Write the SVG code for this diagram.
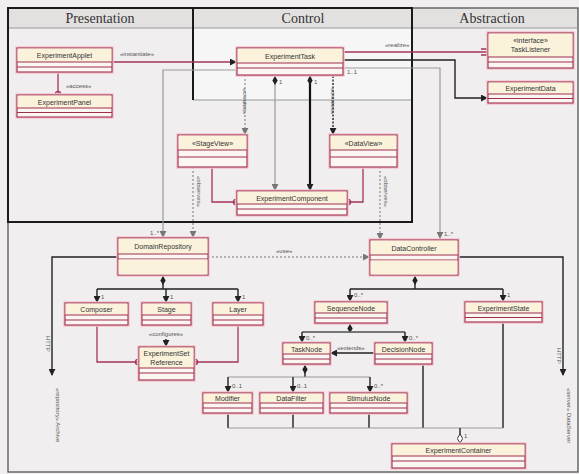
<svg xmlns="http://www.w3.org/2000/svg" width="579" height="474" viewBox="0 0 579 474">
<style>
.halo{fill:none;stroke:#f3c4d0;stroke-width:3.5}
.body{fill:#fcf6f2;stroke:#9e2f4c;stroke-width:1.1}
.nm{fill:#fbf2dc;stroke:none}
.sep{stroke:#9e2f4c;stroke-width:1}
.t{font-family:"Liberation Sans",Arial,sans-serif;font-size:7px;fill:#333;text-anchor:middle}
.s{font-family:"Liberation Sans",Arial,sans-serif;font-size:6px;fill:#555}
.hd{font-family:"Liberation Serif","Times New Roman",serif;font-size:14px;fill:#333;text-anchor:middle}
.dk{fill:none;stroke:#222;stroke-width:1.4}
.thk{fill:none;stroke:#111;stroke-width:2.2}
.gr{fill:none;stroke:#9a9a9a;stroke-width:1.2}
.pk{fill:none;stroke:#a3345a;stroke-width:1.3}
.dsh{fill:none;stroke:#777;stroke-width:1;stroke-dasharray:2,2}
</style>
<defs>
<marker id="ar" viewBox="0 0 8 8" refX="7" refY="4" markerWidth="7" markerHeight="7" orient="auto" markerUnits="userSpaceOnUse"><path d="M0,0 L8,4 L0,8 z" fill="#222"/></marker>
<marker id="arg" viewBox="0 0 8 8" refX="7" refY="4" markerWidth="7" markerHeight="7" orient="auto" markerUnits="userSpaceOnUse"><path d="M0,0 L8,4 L0,8 z" fill="#777"/></marker>
<marker id="dia" viewBox="0 0 10 6" refX="0" refY="3" markerWidth="9" markerHeight="6" orient="auto" markerUnits="userSpaceOnUse"><path d="M0,3 L5,0 L10,3 L5,6 z" fill="#222"/></marker>
<marker id="odia" viewBox="0 0 10 6" refX="10" refY="3" markerWidth="9" markerHeight="6" orient="auto" markerUnits="userSpaceOnUse"><path d="M0,3 L5,0 L10,3 L5,6 z" fill="#fff" stroke="#222" stroke-width="1"/></marker>
<marker id="oc" viewBox="0 0 8 8" refX="7" refY="4" markerWidth="7" markerHeight="7" orient="auto" markerUnits="userSpaceOnUse"><path d="M7,1 A3,3 0 1 0 7,7" fill="none" stroke="#a3345a" stroke-width="1.4"/></marker>
<marker id="otri" viewBox="0 0 8 8" refX="7" refY="4" markerWidth="8" markerHeight="8" orient="auto" markerUnits="userSpaceOnUse"><path d="M1,1 L7,1 L7,7 L1,7" fill="none" stroke="#a3345a" stroke-width="1.4"/></marker>
</defs>

<rect x="0" y="0" width="579" height="474" fill="#f0eeee"/>
<rect x="193" y="28" width="219" height="72" fill="#f7f6f6"/>
<rect x="8" y="8" width="570" height="20" fill="#e3e0e0"/>
<rect x="8" y="8" width="570" height="464" fill="none" stroke="#555" stroke-width="1.3"/>
<line x1="8" y1="28" x2="578" y2="28" stroke="#999" stroke-width="1"/>
<line x1="193" y1="100" x2="412" y2="100" stroke="#999" stroke-width="1"/>
<rect x="8" y="8" width="404" height="214" fill="none" stroke="#1a1a1a" stroke-width="2"/>
<line x1="193" y1="8" x2="193" y2="100" stroke="#1a1a1a" stroke-width="2"/>
<text class="hd" x="100" y="23">Presentation</text>
<text class="hd" x="303" y="23">Control</text>
<text class="hd" x="492" y="23">Abstraction</text>

<g id="connectors">
<path class="pk" d="M112,62 H236" marker-end="url(#ar)"/>
<text class="s" x="120" y="56">«instantiate»</text>
<path class="pk" d="M58,72 V94" marker-end="url(#oc)"/>
<text class="s" x="66" y="88">«access»</text>
<path class="pk" d="M343,52 H487" marker-end="url(#otri)"/>
<text class="s" x="385" y="47">«realize»</text>
<path class="dk" d="M343,60 H455 V98 H487" marker-end="url(#ar)"/>
<path class="gr" d="M343,68 H440 V238" marker-end="url(#arg)"/>
<text class="s" x="347" y="74">1..1</text>
<text class="s" x="444" y="236">1..*</text>
<path class="gr" d="M237,70 H163 V237" marker-end="url(#arg)"/>
<text class="s" x="150" y="235">1..*</text>
<path class="dsh" d="M245,75 V134" marker-end="url(#arg)"/>
<text class="s" transform="translate(243,88) rotate(90)">«creates»</text>
<path class="gr" d="M275,76 V190" marker-start="url(#dia)" marker-end="url(#arg)"/>
<text class="s" x="279" y="84">1</text>
<path class="thk" d="M310,76 V190" marker-start="url(#dia)" marker-end="url(#ar)"/>
<text class="s" x="314" y="84">1</text>
<path class="dk" d="M333,76 V134" stroke-dasharray="2,1.5" marker-end="url(#ar)"/>
<text class="s" transform="translate(331,88) rotate(90)">«creates»</text>
<path class="pk" d="M212,167 V202 H236" marker-end="url(#oc)"/>
<path class="pk" d="M363,167 V202 H348" marker-end="url(#oc)"/>
<path class="dsh" d="M193,167 V237" marker-end="url(#arg)"/>
<text class="s" transform="translate(197,176) rotate(90)">«observes»</text>
<path class="dsh" d="M380,167 V239" marker-end="url(#arg)"/>
<text class="s" transform="translate(384,176) rotate(90)">«observes»</text>
<text class="s" x="197" y="244">1</text>
<text class="s" x="384" y="246">1</text>

<path class="dsh" d="M208,257 H369" marker-end="url(#arg)"/>
<text class="s" x="276" y="253">«use»</text>
<path class="dk" d="M118,257 H52 V375" marker-end="url(#ar)"/>
<text class="s" transform="translate(46,336) rotate(90)">HTTP</text>
<text class="s" transform="translate(56,388) rotate(90)">«repository» Archive</text>
<path class="dk" d="M458,257 H563 V375" marker-end="url(#ar)"/>
<text class="s" transform="translate(557,348) rotate(90)">HTTP</text>
<text class="s" transform="translate(567,388) rotate(90)">«server» DataServer</text>

<path class="dk" d="M163,276 V289 M97,289 H238" marker-start="url(#dia)"/>
<path class="dk" d="M97,289 V302" marker-end="url(#ar)"/>
<path class="dk" d="M166,289 V302" marker-end="url(#ar)"/>
<path class="dk" d="M238,289 V302" marker-end="url(#ar)"/>
<text class="s" x="101" y="299">1</text>
<text class="s" x="170" y="299">1</text>
<text class="s" x="242" y="299">1</text>
<path class="dk" d="M166,339 V346" marker-end="url(#ar)"/>
<text class="s" x="166" y="336" text-anchor="middle">«configures»</text>
<path class="pk" d="M97,325 V362 H138" marker-end="url(#oc)"/>
<path class="pk" d="M238,325 V362 H195" marker-end="url(#oc)"/>

<path class="dk" d="M415,276 V289 M350,289 H503" marker-start="url(#dia)"/>
<path class="dk" d="M350,289 V301" marker-end="url(#ar)"/>
<path class="dk" d="M503,289 V301" marker-end="url(#ar)"/>
<text class="s" x="354" y="297">0..*</text>
<text class="s" x="507" y="297">1</text>
<path class="dk" d="M350,324 V332 M302,332 H405" marker-start="url(#dia)"/>
<path class="gr" d="M302,332 H405"/>
<path class="dk" d="M302,332 V342" marker-end="url(#ar)"/>
<path class="dk" d="M405,332 V342" marker-end="url(#ar)"/>
<text class="s" x="306" y="340">0..*</text>
<text class="s" x="409" y="340">0..*</text>
<path class="dk" d="M375,353 H331" marker-end="url(#ar)"/>
<text class="s" x="337" y="350">«extends»</text>
<path class="dk" d="M305,365 V377" marker-start="url(#dia)"/>
<path class="gr" d="M228,377 H370"/>
<path class="dk" d="M228,377 V392" marker-end="url(#ar)"/>
<path class="dk" d="M293,377 V392" marker-end="url(#ar)"/>
<path class="dk" d="M370,377 V392" marker-end="url(#ar)"/>
<text class="s" x="232" y="388">0..1</text>
<text class="s" x="297" y="388">0..1</text>
<text class="s" x="374" y="388">0..*</text>
<path class="dk" d="M228,413 V428 M293,413 V428 M369,413 V428 M423,364 V428 M503,322 V428"/>
<path class="gr" d="M228,428 H503"/>
<path class="dk" d="M460,428 V443" marker-end="url(#odia)"/>
<text class="s" x="464" y="438">1</text>
</g>

<g id="ExperimentApplet"><rect class="halo" x="17" y="48" width="95" height="24"/><rect class="body" x="17" y="48" width="95" height="24"/><rect class="nm" x="17.6" y="48.6" width="93.8" height="13.4"/><line class="sep" x1="17" y1="62" x2="112" y2="62"/><line class="sep" x1="17" y1="67" x2="112" y2="67"/><text class="t" x="64.5" y="58">ExperimentApplet</text></g>
<g id="ExperimentPanel"><rect class="halo" x="17" y="95" width="95" height="22"/><rect class="body" x="17" y="95" width="95" height="22"/><rect class="nm" x="17.6" y="95.6" width="93.8" height="12.4"/><line class="sep" x1="17" y1="108" x2="112" y2="108"/><line class="sep" x1="17" y1="112.5" x2="112" y2="112.5"/><text class="t" x="64.5" y="104.5">ExperimentPanel</text></g>
<g id="ExperimentTask"><rect class="halo" x="237" y="48" width="106" height="27"/><rect class="body" x="237" y="48" width="106" height="27"/><rect class="nm" x="237.6" y="48.6" width="104.8" height="14.4"/><line class="sep" x1="237" y1="63" x2="343" y2="63"/><line class="sep" x1="237" y1="68" x2="343" y2="68"/><text class="t" x="290" y="58.5">ExperimentTask</text></g>
<g id="TaskListener"><rect class="halo" x="488" y="33" width="85" height="35"/><rect class="body" x="488" y="33" width="85" height="35"/><rect class="nm" x="488.6" y="33.6" width="83.8" height="23.4"/><line class="sep" x1="488" y1="57" x2="573" y2="57"/><line class="sep" x1="488" y1="62" x2="573" y2="62"/><text class="t" x="530.5" y="43">«interface»</text><text class="t" x="530.5" y="52">TaskListener</text></g>
<g id="ExperimentData"><rect class="halo" x="488" y="82" width="85" height="21"/><rect class="body" x="488" y="82" width="85" height="21"/><rect class="nm" x="488.6" y="82.6" width="83.8" height="11.4"/><line class="sep" x1="488" y1="94" x2="573" y2="94"/><line class="sep" x1="488" y1="98.5" x2="573" y2="98.5"/><text class="t" x="530.5" y="91">ExperimentData</text></g>
<g id="StageView"><rect class="halo" x="178" y="135" width="69" height="32"/><rect class="body" x="178" y="135" width="69" height="32"/><rect class="nm" x="178.6" y="135.6" width="67.8" height="14.4"/><line class="sep" x1="178" y1="150" x2="247" y2="150"/><line class="sep" x1="178" y1="157" x2="247" y2="157"/><text class="t" x="212.5" y="145.5">«StageView»</text></g>
<g id="DataView"><rect class="halo" x="330" y="135" width="67" height="32"/><rect class="body" x="330" y="135" width="67" height="32"/><rect class="nm" x="330.6" y="135.6" width="65.8" height="14.4"/><line class="sep" x1="330" y1="150" x2="397" y2="150"/><line class="sep" x1="330" y1="157" x2="397" y2="157"/><text class="t" x="363.5" y="145.5">«DataView»</text></g>
<g id="ExperimentComponent"><rect class="halo" x="237" y="191" width="110" height="24"/><rect class="body" x="237" y="191" width="110" height="24"/><rect class="nm" x="237.6" y="191.6" width="108.8" height="12.4"/><line class="sep" x1="237" y1="204" x2="347" y2="204"/><line class="sep" x1="237" y1="209" x2="347" y2="209"/><text class="t" x="292" y="200.5">ExperimentComponent</text></g>
<g id="DomainRepository"><rect class="halo" x="118" y="238" width="90" height="37"/><rect class="body" x="118" y="238" width="90" height="37"/><rect class="nm" x="118.6" y="238.6" width="88.8" height="15.4"/><line class="sep" x1="118" y1="254" x2="208" y2="254"/><line class="sep" x1="118" y1="259" x2="208" y2="259"/><rect class="nm" x="118.6" y="259.5" width="88.8" height="15"/><text class="t" x="163" y="249">DomainRepository</text></g>
<g id="DataController"><rect class="halo" x="370" y="240" width="88" height="35"/><rect class="body" x="370" y="240" width="88" height="35"/><rect class="nm" x="370.6" y="240.6" width="86.8" height="14.4"/><line class="sep" x1="370" y1="255" x2="458" y2="255"/><line class="sep" x1="370" y1="260" x2="458" y2="260"/><rect class="nm" x="370.6" y="260.5" width="86.8" height="14"/><text class="t" x="414" y="250.5">DataController</text></g>
<g id="Composer"><rect class="halo" x="65" y="303" width="63" height="22"/><rect class="body" x="65" y="303" width="63" height="22"/><rect class="nm" x="65.6" y="303.6" width="61.8" height="11.4"/><line class="sep" x1="65" y1="315" x2="128" y2="315"/><line class="sep" x1="65" y1="320" x2="128" y2="320"/><text class="t" x="96.5" y="312">Composer</text></g>
<g id="Stage"><rect class="halo" x="142" y="303" width="49" height="22"/><rect class="body" x="142" y="303" width="49" height="22"/><rect class="nm" x="142.6" y="303.6" width="47.8" height="11.4"/><line class="sep" x1="142" y1="315" x2="191" y2="315"/><line class="sep" x1="142" y1="320" x2="191" y2="320"/><text class="t" x="166.5" y="312">Stage</text></g>
<g id="Layer"><rect class="halo" x="213" y="303" width="50" height="22"/><rect class="body" x="213" y="303" width="50" height="22"/><rect class="nm" x="213.6" y="303.6" width="48.8" height="11.4"/><line class="sep" x1="213" y1="315" x2="263" y2="315"/><line class="sep" x1="213" y1="320" x2="263" y2="320"/><text class="t" x="238" y="312">Layer</text></g>
<g id="ExperimentReference"><rect class="halo" x="139" y="347" width="55" height="33"/><rect class="body" x="139" y="347" width="55" height="33"/><rect class="nm" x="139.6" y="347.6" width="53.8" height="20.4"/><line class="sep" x1="139" y1="368" x2="194" y2="368"/><line class="sep" x1="139" y1="373" x2="194" y2="373"/><text class="t" x="166.5" y="356">ExperimentSet</text><text class="t" x="166.5" y="364.5">Reference</text></g>
<g id="SequenceNode"><rect class="halo" x="315" y="302" width="72" height="21"/><rect class="body" x="315" y="302" width="72" height="21"/><rect class="nm" x="315.6" y="302.6" width="70.8" height="10.4"/><line class="sep" x1="315" y1="313" x2="387" y2="313"/><line class="sep" x1="315" y1="318" x2="387" y2="318"/><text class="t" x="351" y="310.5">SequenceNode</text></g>
<g id="ExperimentState"><rect class="halo" x="465" y="302" width="77" height="20"/><rect class="body" x="465" y="302" width="77" height="20"/><rect class="nm" x="465.6" y="302.6" width="75.8" height="10.4"/><line class="sep" x1="465" y1="313" x2="542" y2="313"/><line class="sep" x1="465" y1="317.5" x2="542" y2="317.5"/><text class="t" x="503.5" y="310.5">ExperimentState</text></g>
<g id="TaskNode"><rect class="halo" x="283" y="343" width="47" height="21"/><rect class="body" x="283" y="343" width="47" height="21"/><rect class="nm" x="283.6" y="343.6" width="45.8" height="10.4"/><line class="sep" x1="283" y1="354" x2="330" y2="354"/><line class="sep" x1="283" y1="359" x2="330" y2="359"/><text class="t" x="306.5" y="351.5">TaskNode</text></g>
<g id="DecisionNode"><rect class="halo" x="375" y="343" width="57" height="21"/><rect class="body" x="375" y="343" width="57" height="21"/><rect class="nm" x="375.6" y="343.6" width="55.8" height="10.4"/><line class="sep" x1="375" y1="354" x2="432" y2="354"/><line class="sep" x1="375" y1="359" x2="432" y2="359"/><text class="t" x="403.5" y="351.5">DecisionNode</text></g>
<g id="Modifier"><rect class="halo" x="203" y="393" width="49" height="20"/><rect class="body" x="203" y="393" width="49" height="20"/><rect class="nm" x="203.6" y="393.6" width="47.8" height="9.4"/><line class="sep" x1="203" y1="403" x2="252" y2="403"/><line class="sep" x1="203" y1="408" x2="252" y2="408"/><text class="t" x="227.5" y="400.5">Modifier</text></g>
<g id="DataFilter"><rect class="halo" x="260" y="393" width="63" height="20"/><rect class="body" x="260" y="393" width="63" height="20"/><rect class="nm" x="260.6" y="393.6" width="61.8" height="9.4"/><line class="sep" x1="260" y1="403" x2="323" y2="403"/><line class="sep" x1="260" y1="408" x2="323" y2="408"/><text class="t" x="291.5" y="400.5">DataFilter</text></g>
<g id="StimulusNode"><rect class="halo" x="330" y="393" width="77" height="20"/><rect class="body" x="330" y="393" width="77" height="20"/><rect class="nm" x="330.6" y="393.6" width="75.8" height="9.4"/><line class="sep" x1="330" y1="403" x2="407" y2="403"/><line class="sep" x1="330" y1="408" x2="407" y2="408"/><text class="t" x="368.5" y="400.5">StimulusNode</text></g>
<g id="ExperimentContainer"><rect class="halo" x="392" y="444" width="133" height="24"/><rect class="body" x="392" y="444" width="133" height="24"/><rect class="nm" x="392.6" y="444.6" width="131.8" height="11.4"/><line class="sep" x1="392" y1="456" x2="525" y2="456"/><line class="sep" x1="392" y1="461" x2="525" y2="461"/><text class="t" x="458.5" y="453">ExperimentContainer</text></g>
</svg>
